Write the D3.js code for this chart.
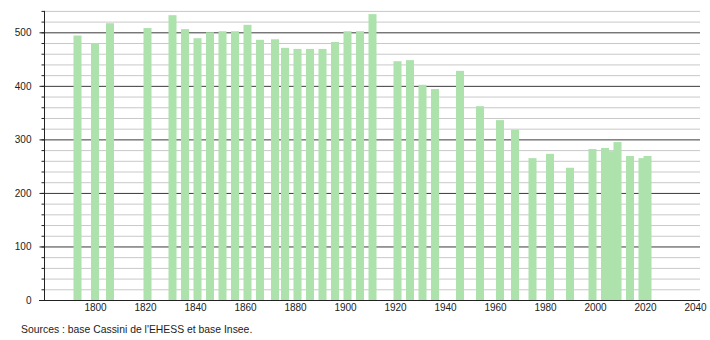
<!DOCTYPE html>
<html>
<head>
<meta charset="utf-8">
<script src="https://cdn.jsdelivr.net/npm/d3@7"></script>
<style>
  body { margin: 0; background: #fff; }
  svg { display: block; }
  text { font-family: "Liberation Sans", Arial, Helvetica, sans-serif; }
</style>
</head>
<body>
<svg id="chart" width="710" height="340"></svg>
<script>
const years = [1793, 1800, 1806, 1821, 1831, 1836, 1841, 1846, 1851, 1856,
  1861, 1866, 1872, 1876, 1881, 1886, 1891, 1896, 1901, 1906,
  1911, 1921, 1926, 1931, 1936, 1946, 1954, 1962, 1968, 1975,
  1982, 1990, 1999, 2004, 2007, 2009, 2014, 2019, 2021];
const population = [494, 480, 517, 508, 532, 506, 489, 500, 502, 502,
  514, 486, 487, 471, 469, 469, 469, 482, 502, 502,
  534, 446, 448, 402, 394, 428, 362, 336, 318, 265,
  273, 247, 282, 284, 278, 295, 269, 265, 269];
const xTickLabels = [1800, 1820, 1840, 1860, 1880, 1900, 1920, 1940, 1960, 1980, 2000, 2020, 2040];
const yMajorTicks = [0, 100, 200, 300, 400, 500];
const yMinorTicks = d3.range(0, 541, 20);
const sourceText = "Sources : base Cassini de l'EHESS et base Insee.";

const svg = d3.select("#chart");
const mLeft = 44.5, mRight = 700, mTop = 10.9, mBottom = 300;

const x = d3.scaleLinear().domain([1780, 2042]).range([45, 700]);
const y = d3.scaleLinear().domain([0, 540]).range([mBottom, mTop]);

// minor gridlines
svg.append("g")
  .attr("transform", `translate(${mLeft},0)`)
  .call(d3.axisLeft(y).tickValues(yMinorTicks.filter(v => v % 100 !== 0)).tickSize(-(mRight - mLeft)).tickFormat(""))
  .call(g => g.select(".domain").remove())
  .call(g => g.selectAll("line").attr("stroke", "#c8c8c8").attr("stroke-width", 1));

// major gridlines
svg.append("g")
  .attr("transform", `translate(${mLeft},0)`)
  .call(d3.axisLeft(y).tickValues(yMajorTicks.filter(v => v > 0)).tickSize(-(mRight - mLeft)).tickFormat(""))
  .call(g => g.select(".domain").remove())
  .call(g => g.selectAll("line").attr("stroke", "#3a3a3a").attr("stroke-width", 1));

// bars
const data = years.map((yr, i) => ({ year: yr, value: population[i] }));
const barW = 8;
svg.append("g").selectAll("rect").data(data).join("rect")
  .attr("x", d => x(d.year) - barW / 2)
  .attr("y", d => y(d.value))
  .attr("width", barW)
  .attr("height", d => y(0) - y(d.value))
  .attr("fill", "#ade2ad");

// minor y ticks
svg.append("g")
  .attr("transform", `translate(${mLeft},0)`)
  .call(d3.axisLeft(y).tickValues(yMinorTicks).tickSize(3).tickFormat(""))
  .call(g => g.select(".domain").remove())
  .call(g => g.selectAll("line").attr("stroke", "#222"));

// y axis with labels
svg.append("g")
  .attr("transform", `translate(${mLeft},0)`)
  .call(d3.axisLeft(y).tickValues(yMajorTicks).tickSize(5).tickPadding(8).tickFormat(d3.format("d")))
  .call(g => g.select(".domain").attr("stroke", "#222").attr("d", `M0,${mTop}V${mBottom}`))
  .call(g => g.selectAll("line").attr("stroke", "#222"))
  .call(g => g.selectAll("text").attr("font-size", 10).attr("fill", "#222")
    .attr("font-family", "'Liberation Sans', Arial, sans-serif"));

// x axis
svg.append("g")
  .attr("transform", `translate(0,${mBottom})`)
  .call(d3.axisBottom(x).tickValues(xTickLabels).tickSize(0).tickPadding(4).tickFormat(d3.format("d")))
  .call(g => g.select(".domain").attr("stroke", "#222").attr("d", `M39,0.5H${mRight}`))
  .call(g => g.selectAll("text").attr("font-size", 10).attr("fill", "#222")
    .attr("font-family", "'Liberation Sans', Arial, sans-serif"));

// source
svg.append("text")
  .attr("x", 21)
  .attr("y", 333)
  .attr("font-size", 10.4)
  .attr("fill", "#222")
  .text(sourceText);
</script>
</body>
</html>
